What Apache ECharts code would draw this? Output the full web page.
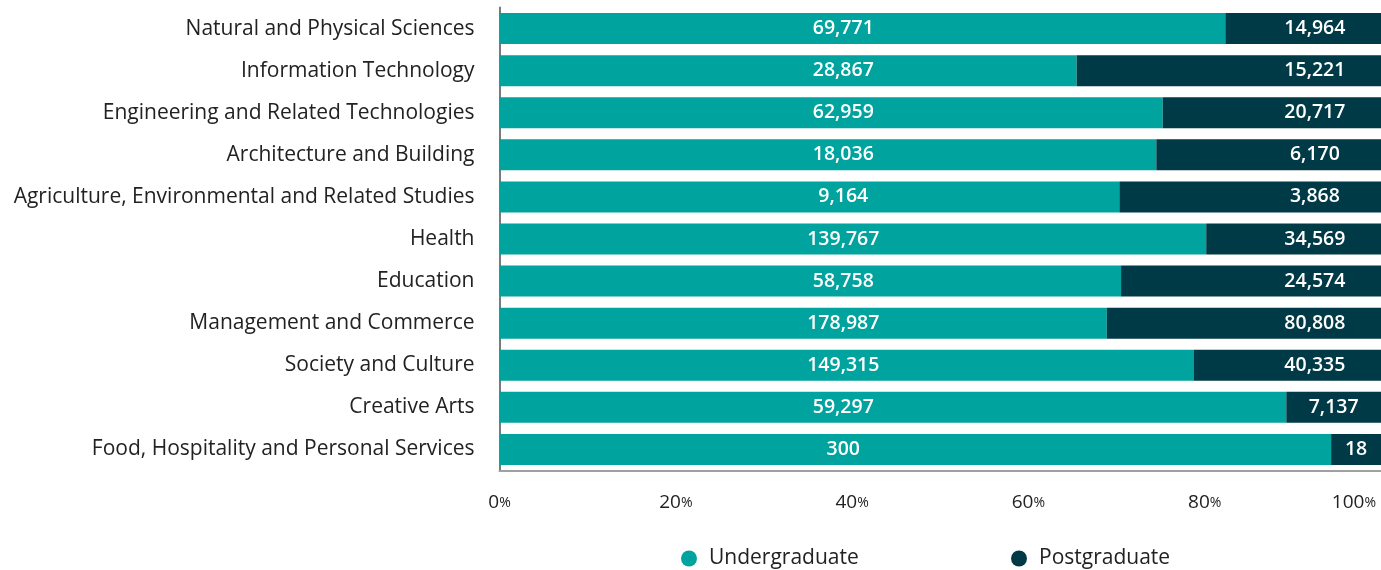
<!DOCTYPE html>
<html>
<head>
<meta charset="utf-8">
<title>Enrolments by field of education</title>
<script src="https://cdn.jsdelivr.net/npm/echarts@6/dist/echarts.min.js"></script>
<style>
  html, body { margin: 0; padding: 0; background: #ffffff; }
  #chart { width: 1381px; height: 570px; }
</style>
</head>
<body>
<div id="chart"></div>
<script>
// Fields of education, top to bottom
const categories = [
  'Natural and Physical Sciences',
  'Information Technology',
  'Engineering and Related Technologies',
  'Architecture and Building',
  'Agriculture, Environmental and Related Studies',
  'Health',
  'Education',
  'Management and Commerce',
  'Society and Culture',
  'Creative Arts',
  'Food, Hospitality and Personal Services'
];

// Student counts per level
const undergraduate = [69771, 28867, 62959, 18036, 9164, 139767, 58758, 178987, 149315, 59297, 300];
const postgraduate  = [14964, 15221, 20717, 6170, 3868, 34569, 24574, 80808, 40335, 7137, 18];

// Percent axis ticks
const tickValues = [0, 20, 40, 60, 80, 100];

const TEAL = '#00a39d';
const DARK = '#003a46';
const FONT = '"Open Sans", "Noto Sans", sans-serif';
const TEXT = '#222222';

// Where the count labels sit along the 0-100% scale
const UG_LABEL_AT = 39.0;
const PG_LABEL_AT = 92.5;

const fmt = n => n.toLocaleString('en-US');

const ugData = [];
const pgData = [];
categories.forEach((c, i) => {
  const total = undergraduate[i] + postgraduate[i];
  const ugShare = undergraduate[i] / total * 100;
  const pgShare = postgraduate[i] / total * 100;
  const ugX = UG_LABEL_AT / ugShare * 100;
  const pgCentre = Math.max(PG_LABEL_AT, ugShare + pgShare / 2);
  const pgX = (pgCentre - ugShare) / pgShare * 100;
  ugData.push({
    value: ugShare,
    count: undergraduate[i],
    label: { position: [ugX + '%', '50%'] }
  });
  pgData.push({
    value: pgShare,
    count: postgraduate[i],
    label: { position: [pgX + '%', '50%'] }
  });
});

const valueLabel = {
  show: true,
  align: 'center',
  verticalAlign: 'middle',
  color: '#ffffff',
  fontFamily: FONT,
  fontWeight: 600,
  fontSize: 19.5,
  padding: [3, 0, 0, 0],
  formatter: p => fmt(p.data.count)
};

const legendText = { fontFamily: FONT, fontSize: 21, color: TEXT, padding: [0, 0, 0, 7] };

const chart = echarts.init(document.getElementById('chart'), null, { renderer: 'canvas' });

chart.setOption({
  animation: false,
  textStyle: { fontFamily: FONT },
  grid: { left: 499.5, right: -4.5, top: 7.5, bottom: 99.5, containLabel: false },
  legend: [
    {
      data: ['Undergraduate'],
      left: 676,
      top: 543,
      icon: 'circle',
      itemWidth: 16,
      itemHeight: 16,
      textStyle: legendText
    },
    {
      data: ['Postgraduate'],
      left: 1006,
      top: 543,
      icon: 'circle',
      itemWidth: 16,
      itemHeight: 16,
      textStyle: legendText
    }
  ],
  xAxis: {
    type: 'value',
    min: 0,
    max: 100,
    interval: 20,
    axisLine: { show: true, lineStyle: { color: '#a0a0a0', width: 2 } },
    axisTick: { show: false },
    splitLine: { show: false },
    axisLabel: {
      margin: 23,
      alignMaxLabel: 'right',
      formatter: v => tickValues.includes(v)
        ? (v === 100 ? '{n|' + v + '}{pe|%}' : '{n|' + v + '}{p|%}')
        : '',
      rich: {
        n: { fontFamily: FONT, fontSize: 19, color: TEXT },
        p: { fontFamily: FONT, fontSize: 14, color: TEXT },
        pe: { fontFamily: FONT, fontSize: 14, color: TEXT, padding: [0, 5, 0, 0] }
      }
    }
  },
  yAxis: {
    type: 'category',
    data: categories,
    inverse: true,
    axisLine: { show: true, lineStyle: { color: '#7a7a7a', width: 2 } },
    axisTick: { show: false },
    axisLabel: {
      margin: 25,
      fontFamily: FONT,
      fontSize: 21,
      color: TEXT,
      padding: [7, 0, 0, 0]
    }
  },
  series: [
    {
      name: 'Undergraduate',
      type: 'bar',
      stack: 'level',
      barWidth: 31,
      itemStyle: { color: TEAL },
      label: valueLabel,
      data: ugData
    },
    {
      name: 'Postgraduate',
      type: 'bar',
      stack: 'level',
      barWidth: 31,
      itemStyle: { color: DARK },
      label: valueLabel,
      data: pgData
    }
  ]
});
</script>
</body>
</html>
